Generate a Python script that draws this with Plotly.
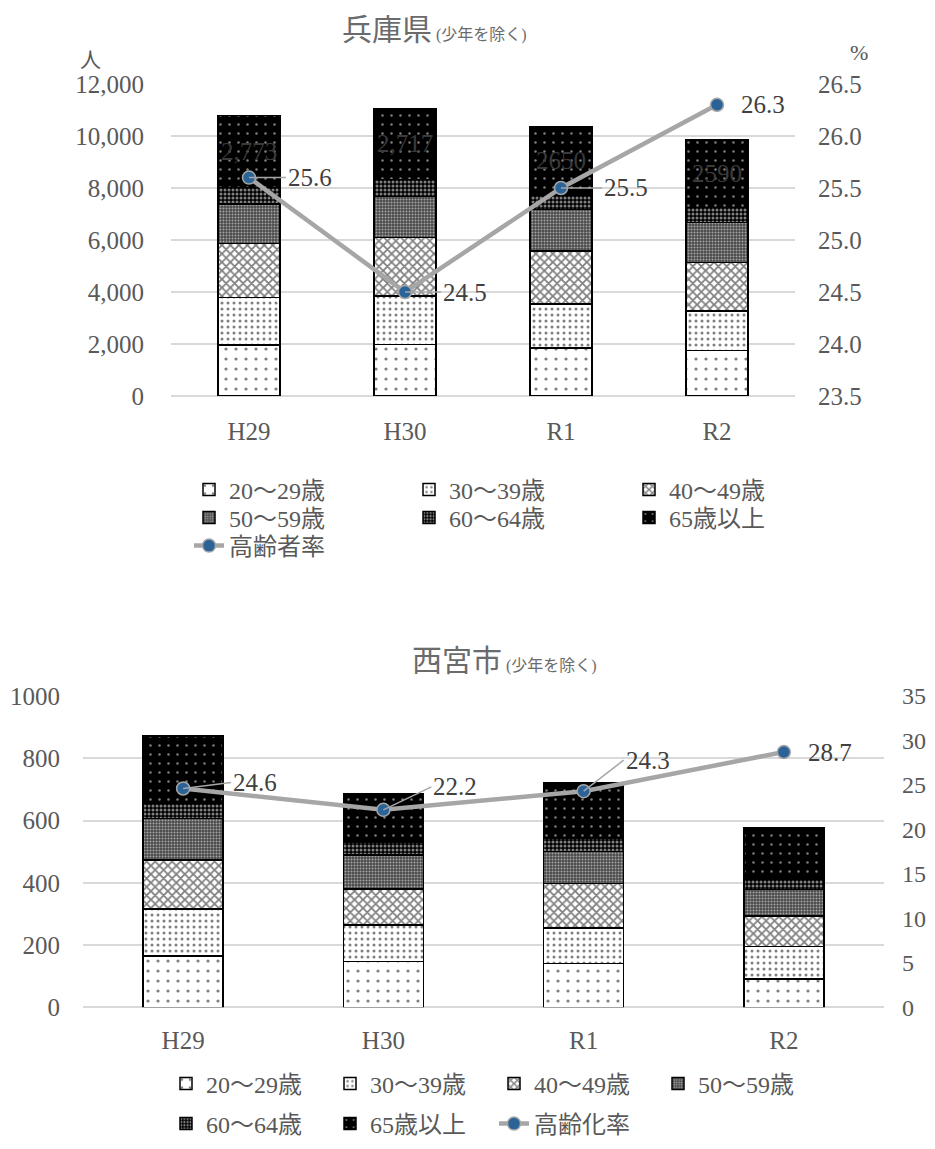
import plotly.graph_objects as go

# page body has an 8px margin; figure fills the rest of the 935x1149 window
OFF = 8
W, H = 935 - 2 * OFF, 1149 - 2 * OFF

# ---------------- data ----------------
categories = ["H29", "H30", "R1", "R2"]
age_groups = ["20～29歳", "30～39歳", "40～49歳", "50～59歳", "60～64歳", "65歳以上"]

# 兵庫県 (人)
hyogo_20 = [1960, 1990, 1840, 1742]
hyogo_30 = [1820, 1858, 1700, 1527]
hyogo_40 = [2092, 2242, 2030, 1858]
hyogo_50 = [1512, 1577, 1610, 1538]
hyogo_60 = [627, 669, 540, 592]
hyogo_65 = [2773, 2717, 2650, 2590]
hyogo_65_labels = ["2,773", "2,717", "2650", "2590"]
hyogo_rate = [25.6, 24.5, 25.5, 26.3]

# 西宮市 (人)
nishi_20 = [165, 147, 141, 91]
nishi_30 = [150, 118, 114, 104]
nishi_40 = [158, 115, 143, 99]
nishi_50 = [134, 110, 102, 84]
nishi_60 = [48, 40, 43, 32]
nishi_65 = [217, 156, 177, 166]
nishi_rate = [24.6, 22.2, 24.3, 28.7]

# ---------------- styles ----------------
FONT = "Liberation Serif, Noto Sans CJK JP, serif"
TXT = "#595959"
GRID = "#d9d9d9"
LINE_C = "#a6a6a6"
DOT_C = "#2b6399"

patterns = [
    dict(shape=".", bgcolor="white", fgcolor="black", size=10, solidity=0.08),
    dict(shape=".", bgcolor="white", fgcolor="black", size=6, solidity=0.2),
    dict(shape="x", bgcolor="white", fgcolor="black", size=6, solidity=0.5),
    dict(shape=".", bgcolor="#4a4a4a", fgcolor="white", size=3, solidity=0.35),
    dict(shape=".", bgcolor="black", fgcolor="white", size=4, solidity=0.45),
    dict(shape=".", bgcolor="black", fgcolor="white", size=9, solidity=0.06),
]


def px_x(p):
    return (p - OFF) / W


def px_y(p):
    return 1 - (p - OFF) / H


fig = go.Figure()

hyogo_series = [hyogo_20, hyogo_30, hyogo_40, hyogo_50, hyogo_60, hyogo_65]
nishi_series = [nishi_20, nishi_30, nishi_40, nishi_50, nishi_60, nishi_65]

top_leg = ["legend", "legend", "legend", "legend2", "legend2", "legend2"]
bot_leg = ["legend4", "legend4", "legend4", "legend4", "legend5", "legend5"]

for i, (name, vals) in enumerate(zip(age_groups, hyogo_series)):
    kw = {}
    if i == 5:
        kw = dict(text=hyogo_65_labels, textposition="inside", insidetextanchor="middle",
                  textangle=0, constraintext="none",
                  textfont=dict(family=FONT, size=25, color="#3a3a3a"))
    fig.add_trace(go.Bar(
        x=categories, y=vals, name=name, xaxis="x", yaxis="y",
        width=0.4, legend=top_leg[i],
        marker=dict(color=patterns[i]["bgcolor"], pattern=patterns[i],
                    line=dict(color="black", width=1.5)),
        **kw))

fig.add_trace(go.Scatter(
    x=categories, y=hyogo_rate, name="高齢者率", xaxis="x", yaxis="y2",
    mode="lines+markers", legend="legend3",
    line=dict(color=LINE_C, width=4.5),
    marker=dict(size=13, color=DOT_C, line=dict(color=LINE_C, width=1.5))))

for i, (name, vals) in enumerate(zip(age_groups, nishi_series)):
    fig.add_trace(go.Bar(
        x=categories, y=vals, name=name, xaxis="x2", yaxis="y3",
        width=0.4, legend=bot_leg[i],
        marker=dict(color=patterns[i]["bgcolor"], pattern=patterns[i],
                    line=dict(color="black", width=1.5))))

fig.add_trace(go.Scatter(
    x=categories, y=nishi_rate, name="高齢化率", xaxis="x2", yaxis="y4",
    mode="lines+markers", legend="legend5",
    line=dict(color=LINE_C, width=4.5),
    marker=dict(size=13, color=DOT_C, line=dict(color=LINE_C, width=1.5))))

# ---------------- annotations ----------------
ann = []
LBL_FONT = dict(family=FONT, size=25, color="#404040")
top_offsets = [(37, 0, True), (36, 0, True), (41, 0, True), (22, 0, False)]
for c, v, (ax, ay, arrow) in zip(categories, hyogo_rate, top_offsets):
    if arrow:
        ann.append(dict(x=c, y=v, xref="x", yref="y2", text=f"{v:.1f}",
                        showarrow=True, ax=ax, ay=ay, xanchor="left", yanchor="middle",
                        arrowhead=0, arrowwidth=1.5, arrowcolor=LINE_C, font=LBL_FONT))
    else:
        ann.append(dict(x=c, y=v, xref="x", yref="y2", text=f"{v:.1f}",
                        showarrow=False, xshift=ax, xanchor="left", yanchor="middle",
                        font=LBL_FONT))

bot_offsets = [(48, -6, True), (48, -23, True), (40, -31, True), (22, 0, False)]
for c, v, (ax, ay, arrow) in zip(categories, nishi_rate, bot_offsets):
    if arrow:
        ann.append(dict(x=c, y=v, xref="x2", yref="y4", text=f"{v:.1f}",
                        showarrow=True, ax=ax, ay=ay, xanchor="left", yanchor="middle",
                        arrowhead=0, arrowwidth=1.5, arrowcolor=LINE_C, font=LBL_FONT))
    else:
        ann.append(dict(x=c, y=v, xref="x2", yref="y4", text=f"{v:.1f}",
                        showarrow=False, xshift=ax, xanchor="left", yanchor="middle",
                        font=LBL_FONT))

# titles and units
TITLE_FONT = dict(family=FONT, size=30, color="#6b6b6b")
ann.append(dict(x=px_x(340), y=px_y(30), xref="paper", yref="paper", xanchor="left",
                yanchor="middle", showarrow=False,
                text="兵庫県<span style='font-size:16px'> (少年を除く)</span>",
                font=TITLE_FONT))
ann.append(dict(x=px_x(410), y=px_y(660), xref="paper", yref="paper", xanchor="left",
                yanchor="middle", showarrow=False,
                text="西宮市<span style='font-size:16px'> (少年を除く)</span>",
                font=TITLE_FONT))
ann.append(dict(x=px_x(90), y=px_y(60), xref="paper", yref="paper", xanchor="center",
                yanchor="middle", showarrow=False, text="人",
                font=dict(family=FONT, size=21, color=TXT)))
ann.append(dict(x=px_x(859), y=px_y(53), xref="paper", yref="paper", xanchor="center",
                yanchor="middle", showarrow=False, text="%",
                font=dict(family=FONT, size=22, color=TXT)))

axis_font = dict(family=FONT, size=25, color=TXT)
leg_font = dict(family=FONT, size=24, color=TXT)


def legend_row(x_text_px, y_px, entry):
    return dict(orientation="h", x=px_x(x_text_px - 40), y=px_y(y_px),
                xanchor="left", yanchor="middle", entrywidth=entry,
                entrywidthmode="pixels", font=leg_font, bgcolor="rgba(0,0,0,0)",
                traceorder="normal")


fig.update_layout(
    width=W, height=H, margin=dict(l=0, r=0, t=0, b=0, autoexpand=False),
    paper_bgcolor="white", plot_bgcolor="white",
    barmode="stack", bargap=0.6,
    font=dict(family=FONT, color=TXT),
    xaxis=dict(domain=[px_x(171), px_x(795)], anchor="y", tickfont=axis_font,
               showgrid=False, showline=False, ticks="", ticklabelstandoff=18,
               automargin=False),
    yaxis=dict(domain=[px_y(396), px_y(84)], range=[0, 12000], dtick=2000,
               tickformat=",", tickfont=axis_font, gridcolor=GRID, gridwidth=1.5,
               zeroline=True, zerolinecolor=GRID, zerolinewidth=1.5,
               showline=False, ticks="", ticklabelstandoff=26, automargin=False),
    yaxis2=dict(overlaying="y", anchor="x", side="right", range=[23.5, 26.5],
                dtick=0.5, tickformat=".1f", tickfont=axis_font, showgrid=False,
                zeroline=False, showline=False, ticks="", ticklabelstandoff=22,
                automargin=False),
    xaxis2=dict(domain=[px_x(83), px_x(884)], anchor="y3", tickfont=axis_font,
                showgrid=False, showline=False, ticks="", ticklabelstandoff=16,
                automargin=False),
    yaxis3=dict(domain=[px_y(1007.3), px_y(696)], anchor="x2", range=[0, 1000],
                dtick=200, tickformat="d", tickfont=axis_font, gridcolor=GRID,
                gridwidth=1.5, zeroline=True, zerolinecolor=GRID, zerolinewidth=1.5,
                showline=False, ticks="", ticklabelstandoff=22, automargin=False),
    yaxis4=dict(overlaying="y3", anchor="x2", side="right", range=[0, 35], dtick=5,
                tickfont=dict(family=FONT, size=24, color=TXT), showgrid=False,
                zeroline=False, showline=False, ticks="", ticklabelstandoff=17,
                automargin=False),
    legend=legend_row(229, 490, 175),
    legend2=legend_row(229, 518, 175),
    legend3=legend_row(229, 546, 175),
    legend4=legend_row(206, 1084, 119),
    legend5=legend_row(206, 1124, 119),
    annotations=ann,
    showlegend=True,
)

fig.write_html("out.html")
